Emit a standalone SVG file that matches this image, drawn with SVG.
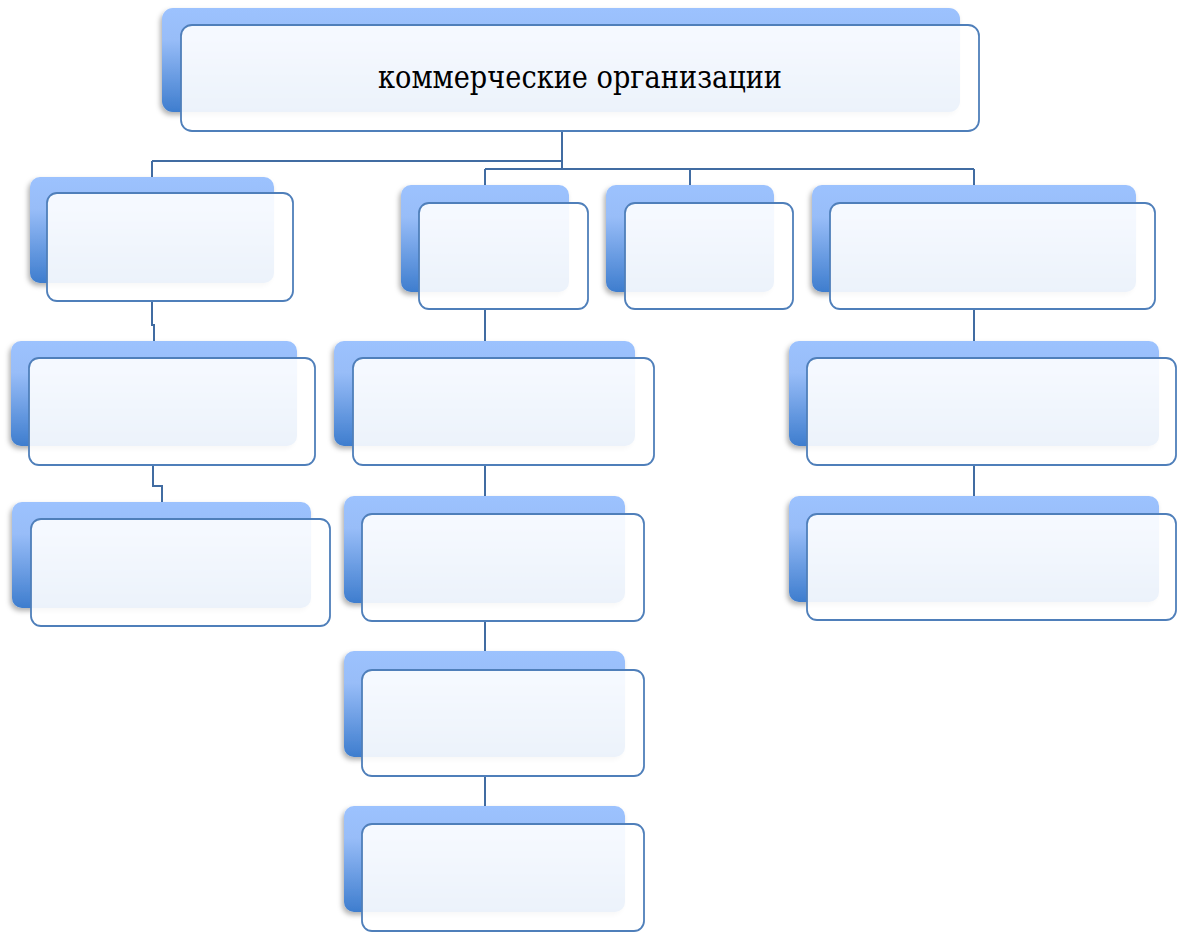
<svg xmlns="http://www.w3.org/2000/svg" width="1177" height="932" viewBox="0 0 1177 932">
<defs>
<linearGradient id="gb" x1="0" y1="0" x2="0" y2="1">
<stop offset="0" stop-color="#9CC2FE"/>
<stop offset="0.3" stop-color="#98BDF8"/>
<stop offset="1" stop-color="#3E7DCE"/>
</linearGradient>
<filter id="sh" x="-10%" y="-10%" width="120%" height="130%">
<feDropShadow dx="-2" dy="3" stdDeviation="2.5" flood-color="#000" flood-opacity="0.3"/>
</filter>
</defs>
<style>
.back{fill:url(#gb);filter:url(#sh)}
.front{fill:#fff;fill-opacity:0.9;stroke:#4F7FBA;stroke-width:1.8}
.conn{fill:none;stroke:#416CA2;stroke-width:2}
.lbl{font-family:"DejaVu Serif","Liberation Serif",serif;font-size:31px;fill:#000}
</style>
<rect width="1177" height="932" fill="#fff"/>
<g id="connectors">
<path class="conn" d="M562,131 V169 M152,161 H562 M152,161 V177 M485,169 H974 M485,169 V185 M690,169 V185 M974,169 V185"/>
<path class="conn" d="M152,301 V325 H154 V341 M153,465 V486 H162 V502"/>
<path class="conn" d="M485,309 V341 M485,465 V496 M485,620 V651 M485,776 V806"/>
<path class="conn" d="M974,309 V341 M974,465 V496"/>
</g>
<g id="node-top">
<rect class="back" x="162" y="8" width="798" height="104" rx="11"/>
<rect class="front" x="181" y="25" width="798" height="106" rx="11"/>
<text class="lbl" x="580" y="88" text-anchor="middle" textLength="404" lengthAdjust="spacingAndGlyphs">коммерческие организации</text>
</g>
<g id="node-l1">
<rect class="back" x="30" y="177" width="244" height="106" rx="10"/>
<rect class="front" x="47" y="193" width="246" height="108" rx="10"/>
</g>
<g id="node-l2">
<rect class="back" x="11" y="341" width="286" height="105" rx="10"/>
<rect class="front" x="29" y="358" width="286" height="107" rx="10"/>
</g>
<g id="node-l3">
<rect class="back" x="12" y="502" width="299" height="106" rx="10"/>
<rect class="front" x="31" y="519" width="299" height="107" rx="10"/>
</g>
<g id="node-b1">
<rect class="back" x="401" y="185" width="168" height="107" rx="10"/>
<rect class="front" x="419" y="203" width="169" height="106" rx="10"/>
</g>
<g id="node-c1">
<rect class="back" x="606" y="185" width="168" height="107" rx="10"/>
<rect class="front" x="625" y="203" width="168" height="106" rx="10"/>
</g>
<g id="node-d1">
<rect class="back" x="812" y="185" width="324" height="107" rx="10"/>
<rect class="front" x="830" y="203" width="325" height="106" rx="10"/>
</g>
<g id="node-b2">
<rect class="back" x="334" y="341" width="301" height="105" rx="10"/>
<rect class="front" x="353" y="358" width="301" height="107" rx="10"/>
</g>
<g id="node-b3">
<rect class="back" x="344" y="496" width="281" height="107" rx="10"/>
<rect class="front" x="362" y="514" width="282" height="107" rx="10"/>
</g>
<g id="node-b4">
<rect class="back" x="344" y="651" width="281" height="106" rx="10"/>
<rect class="front" x="362" y="670" width="282" height="106" rx="10"/>
</g>
<g id="node-b5">
<rect class="back" x="344" y="806" width="281" height="106" rx="10"/>
<rect class="front" x="362" y="824" width="282" height="107" rx="10"/>
</g>
<g id="node-d2">
<rect class="back" x="789" y="341" width="370" height="105" rx="10"/>
<rect class="front" x="807" y="358" width="369" height="107" rx="10"/>
</g>
<g id="node-d3">
<rect class="back" x="789" y="496" width="370" height="106" rx="10"/>
<rect class="front" x="807" y="514" width="369" height="106" rx="10"/>
</g>
</svg>
